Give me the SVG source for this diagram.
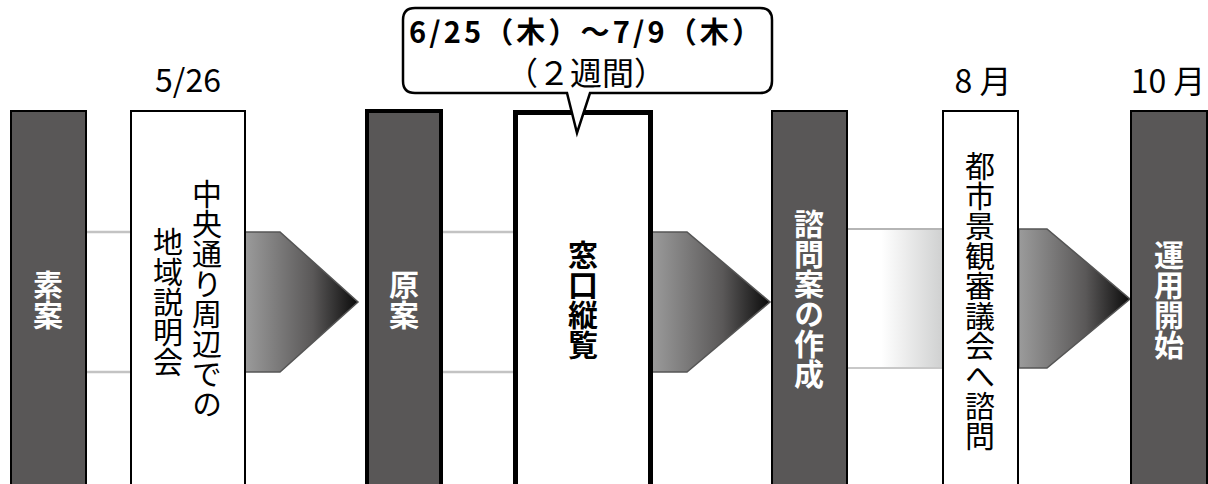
<svg xmlns="http://www.w3.org/2000/svg" width="1208" height="484" viewBox="0 0 1208 484">
<defs>
<linearGradient id="arrowGrad" x1="0" y1="0" x2="1" y2="0">
<stop offset="0" stop-color="#9b9b9b"/>
<stop offset="0.6" stop-color="#5a5858"/>
<stop offset="1" stop-color="#0a0a0a"/>
</linearGradient>
<linearGradient id="lightGrad" x1="0" y1="0" x2="1" y2="0">
<stop offset="0" stop-color="#ffffff"/>
<stop offset="0.35" stop-color="#ffffff"/>
<stop offset="1" stop-color="#cfd0d0"/>
</linearGradient>
<style>
.dark{fill:#595757;stroke:#000;stroke-width:2}
.darkb{fill:#595757;stroke:#000;stroke-width:4}
.white{fill:#fff;stroke:#000;stroke-width:2}
.whiteb{fill:#fff;stroke:#000;stroke-width:5}
.vt{font-family:"Noto Sans CJK JP",sans-serif;font-size:30px;writing-mode:vertical-rl;text-anchor:middle}
.vw{fill:#fff;font-weight:bold}
.vb{fill:#000;font-weight:bold}
.vn{fill:#000}
.lbl{font-family:"Noto Sans CJK JP",sans-serif;font-size:32px;fill:#000;text-anchor:middle}
.line{stroke:#c3c3c3;stroke-width:2.5;fill:none}
.arrow{fill:url(#arrowGrad);stroke:#555;stroke-width:1.5}
</style>
</defs>
<g id="connectors">
<line class="line" x1="87" y1="232" x2="130" y2="232"/>
<line class="line" x1="87" y1="372" x2="130" y2="372"/>
<path class="arrow" d="M245,232 L280,232 L358,302 L280,372 L245,372 Z"/>
<line class="line" x1="443" y1="232" x2="514" y2="232"/>
<line class="line" x1="443" y1="372" x2="514" y2="372"/>
<path class="arrow" d="M652,232 L687,232 L770,302 L687,372 L652,372 Z"/>
<rect x="848" y="229" width="95" height="139" fill="url(#lightGrad)"/>
<line x1="848" y1="229" x2="943" y2="229" stroke="#b5b5b5" stroke-width="2"/>
<line x1="848" y1="368" x2="943" y2="368" stroke="#c8c8c8" stroke-width="2"/>
<path class="arrow" d="M1019,229 L1047,229 L1130,299 L1047,368 L1019,368 Z"/>
</g>
<g id="node-soan">
<rect class="dark" x="11" y="111" width="75" height="400"/>
<text class="vt vw" x="48" y="300">素案</text>
</g>
<g id="node-chuo">
<rect class="white" x="131" y="111" width="114" height="400"/>
<text class="lbl" x="188" y="92">5/26</text>
<text class="vt vn" x="207" y="299">中央通り周辺での</text>
<text class="vt vn" x="168" y="302">地域説明会</text>
</g>
<g id="node-gen">
<rect class="darkb" x="367" y="111" width="74" height="400"/>
<text class="vt vw" x="404" y="300">原案</text>
</g>
<g id="node-mado">
<rect class="whiteb" x="515.5" y="112.5" width="135" height="400"/>
<text class="vt vb" x="583" y="300">窓口縦覧</text>
</g>
<g id="callout">
<path d="M415,8 L760,8 Q772,8 772,20 L772,81 Q772,93 760,93 L590,93 L577,133 L567,93 L415,93 Q403,93 403,81 L403,20 Q403,8 415,8 Z" fill="#fff" stroke="#000" stroke-width="2.5"/>
<text x="409" y="43" font-family="'Noto Sans CJK JP',sans-serif" font-size="29" font-weight="bold" textLength="352" lengthAdjust="spacing">6/25（木）～7/9（木）</text>
<text class="lbl" x="586" y="85" font-size="26">（２週間）</text>
</g>
<g id="node-shimon">
<rect class="dark" x="772" y="111" width="75" height="400"/>
<text class="vt vw" x="809" y="299">諮問案の作成</text>
</g>
<g id="node-toshi">
<rect class="white" x="943" y="111" width="75" height="400"/>
<text class="lbl" x="983" y="93">8 月</text>
<text class="vt vn" x="980" y="301">都市景観審議会へ諮問</text>
</g>
<g id="node-unyo">
<rect class="dark" x="1131" y="111" width="76" height="400"/>
<text class="lbl" x="1168" y="93">10 月</text>
<text class="vt vw" x="1169" y="300">運用開始</text>
</g>
</svg>
